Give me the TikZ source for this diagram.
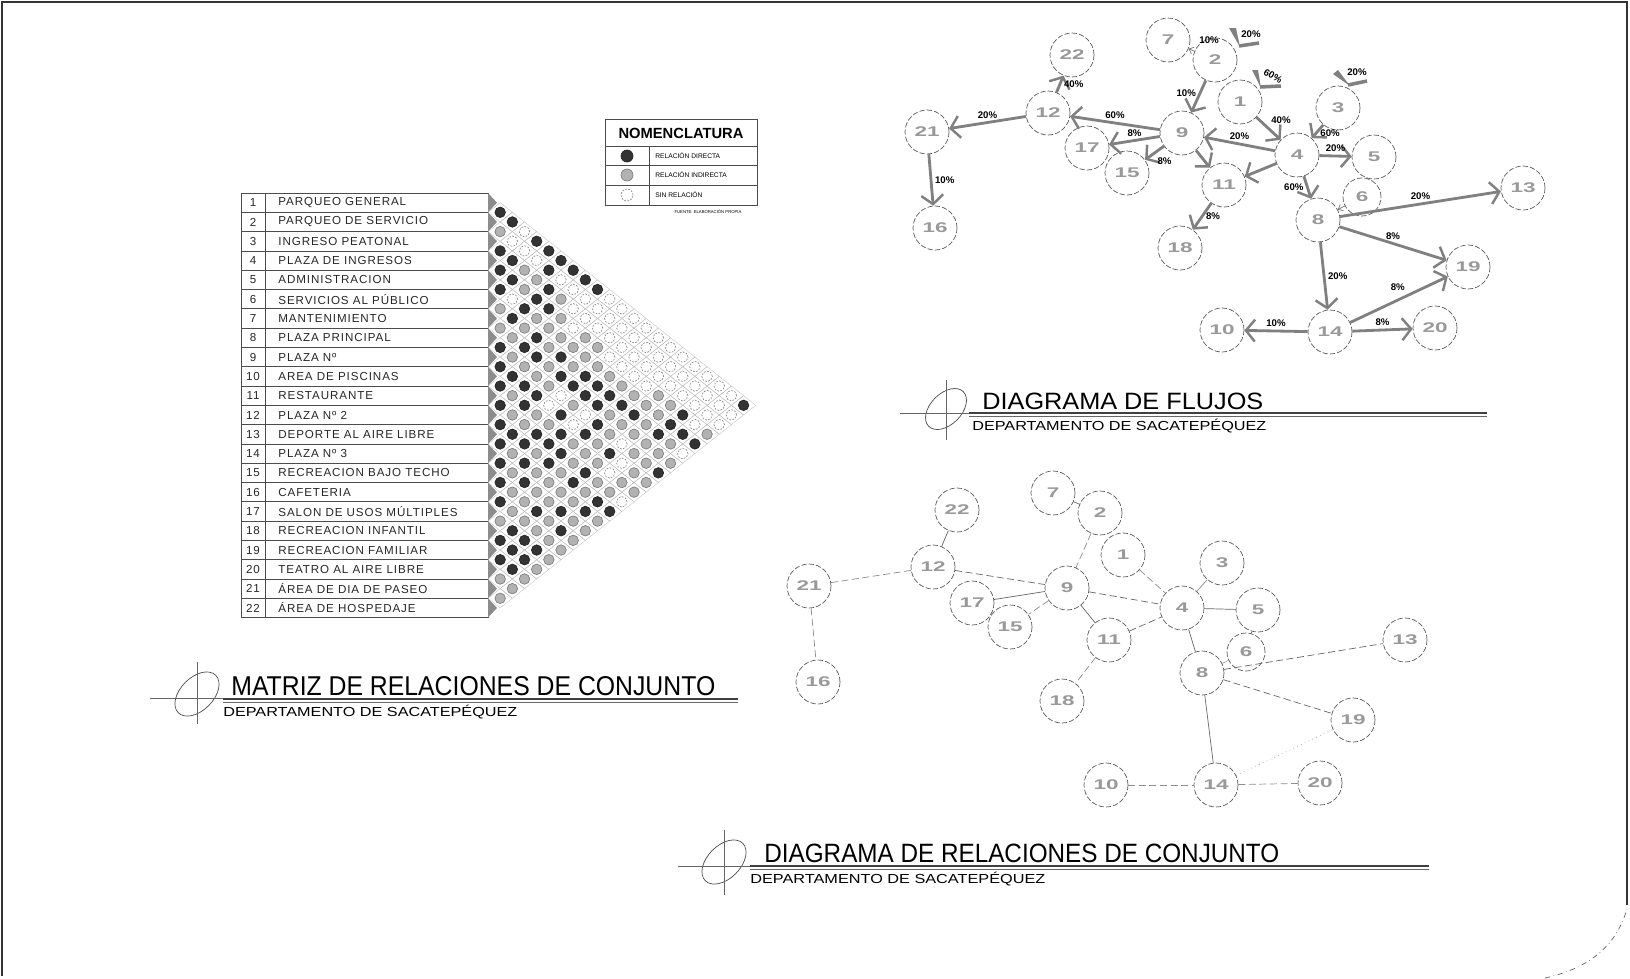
\documentclass[tikz,border=0pt]{standalone}
\usepackage{fontspec}
\setmainfont{Liberation Sans}
\newfontfamily\numfont[FakeStretch=1.6]{Liberation Sans}
\newfontfamily\tabfont[LetterSpace=8]{Liberation Sans}
\usetikzlibrary{arrows.meta,positioning,shapes.geometric}

\definecolor{flowgray}{gray}{0.5}

% relation matrix, one entry per diagonal row: B direct, G indirect, W none
\newcommand\matrows{0/{B},1/{B},2/{G,W},3/{W,B},4/{B,W,B},5/{B,W,B},6/{B,G,B,B},7/{B,G,W,B},8/{B,G,B,W,B},9/{W,B,G,W,W},10/{G,B,B,W,W,W},11/{B,G,G,W,W,W},12/{G,G,G,W,W,W,W},13/{G,B,G,G,W,W,W},14/{B,B,G,G,G,W,W,W},15/{G,B,B,G,W,W,W,W},16/{B,G,G,G,G,W,W,W,W},17/{B,G,B,B,G,W,W,W,W},18/{B,B,G,B,B,G,W,W,W,W},19/{G,B,W,B,B,G,G,W,W,W},20/{B,B,W,G,B,B,G,G,W,W,B},21/{G,G,B,W,G,B,G,B,W,W},22/{B,G,G,W,B,G,G,B,W,W},23/{B,B,B,B,G,G,B,B,G},24/{B,B,B,G,G,W,G,G,B},25/{G,G,B,G,B,G,G,W},26/{B,B,B,G,G,W,G,G},27/{G,G,G,B,W,G,B},28/{B,B,G,B,G,G,G},29/{G,G,G,G,G,G},30/{B,G,G,G,B,W},31/{G,B,B,B,B},32/{G,G,G,G,G},33/{B,G,B,G},34/{B,B,G,G},35/{B,B,G},36/{B,B,G},37/{B,G},38/{G,G},39/{G},40/{G}}

\begin{document}
\begin{tikzpicture}[x=0.02cm,y=-0.02cm,
  plannode/.style={circle,draw=black!65,dash pattern=on 3pt off 1.2pt,minimum size=0.88cm,inner sep=0pt,text=black!40,font=\numfont\bfseries\fontsize{8}{8}\selectfont},
  smallnode/.style={plannode,minimum size=0.76cm},
  flowarrow/.style={draw=flowgray,line width=1.6pt,-{Straight Barb[length=1.8mm,width=4.4mm,line width=1.4pt]}},
  smallarrow/.style={draw=black!55,thin,-{Straight Barb[length=0.8mm,width=1.4mm]}},
  lbl/.style={font=\bfseries\fontsize{5.5}{6}\selectfont,inner sep=1.5pt},
  relsolid/.style={draw=black!60,thin},
  reldash/.style={draw=black!45,thin,dash pattern=on 4pt off 2pt},
  reldot/.style={draw=black!35,thin,dotted},
  tabline/.style={draw=black!70,thin},
  tabtext/.style={font=\tabfont\fontsize{6.6}{7}\selectfont,inner sep=0pt,text=black!85},
  gridline/.style={draw=black!25,very thin},
  cellB/.style={fill=black!80,draw=black!85},
  cellG/.style={fill=black!30,draw=black!50},
  cellW/.style={draw=black!45,dash pattern=on 1pt off 0.8pt},
  markellipse/.style={ellipse,draw=black!70,minimum width=0.98cm,minimum height=0.62cm,inner sep=0pt,rotate=45},
  entry/.style={fill=flowgray}]
\useasboundingbox (0,0) rectangle (1630,978);

% sheet frame
\draw[black!80,thick] (1627,905) -- (1627,2) -- (2,2) -- (2,976);
\draw[black!60,dash dot] (1545,978) .. controls (1590,968) and (1618,945) .. (1628,905);

%%% matrix table
\draw[tabline] (241,193) rectangle (488,617);
\draw[tabline] (265,193) -- (265,617);
\foreach \i in {1,...,21}
  \draw[tabline] (241,{193+19.3*\i}) -- (488,{193+19.3*\i});
\foreach \txt [count=\i] in {PARQUEO GENERAL,PARQUEO DE SERVICIO,INGRESO PEATONAL,PLAZA DE INGRESOS,ADMINISTRACION,SERVICIOS AL PÚBLICO,MANTENIMIENTO,PLAZA PRINCIPAL,PLAZA Nº,AREA DE PISCINAS,RESTAURANTE,PLAZA Nº 2,DEPORTE AL AIRE LIBRE,PLAZA Nº 3,RECREACION BAJO TECHO,CAFETERIA,SALON DE USOS MÚLTIPLES,RECREACION INFANTIL,RECREACION FAMILIAR,TEATRO AL AIRE LIBRE,ÁREA DE DIA DE PASEO,ÁREA DE HOSPEDAJE}{
  \node[tabtext] (num\i) at (253,{193+19.3*(\i-0.5)}) {\i};
  \node[tabtext,anchor=west] (row\i) at (278,{193+19.3*(\i-0.5)}) {\txt};
  \fill[black!45] (488,{193+19.3*(\i-1)}) -- (497,{193+19.3*(\i-0.5)}) -- (488,{193+19.3*\i}) -- cycle;
}
% relation cells
\foreach \row/\cells in \matrows {
  \foreach \kind [count=\idx from 0] in \cells {
    \pgfmathsetmacro\cx{488+12.17*(mod(\row,2)+2*\idx+1)}
    \pgfmathsetmacro\cy{193+9.65*(\row+2)}
    \draw[gridline] (\cx-12.17,\cy) -- (\cx,\cy-9.65) -- (\cx+12.17,\cy) -- (\cx,\cy+9.65) -- cycle;
    \path[cell\kind] (\cx,\cy) circle[radius=0.105cm];
  }
}

%%% legend
\draw[tabline] (605,119) rectangle (757,205);
\draw[tabline] (605,146) -- (757,146);
\draw[tabline] (605,165) -- (757,165);
\draw[tabline] (605,185) -- (757,185);
\draw[tabline] (649,146) -- (649,205);
\node[inner sep=0pt] (legtitle) at (681,133) {\resizebox{2.5cm}{!}{\bfseries NOMENCLATURA}};
\path[cellB] (627,156) circle[radius=0.12cm];
\path[cellG] (627,175) circle[radius=0.12cm];
\path[cellW] (627,195) circle[radius=0.12cm];
\node[font=\fontsize{3.8}{4}\selectfont,anchor=west,inner sep=0pt] (leg1) at (655,156) {RELACIÓN DIRECTA};
\node[font=\fontsize{3.8}{4}\selectfont,anchor=west,inner sep=0pt] (leg2) at (655,175) {RELACIÓN INDIRECTA};
\node[font=\fontsize{3.8}{4}\selectfont,anchor=west,inner sep=0pt] (leg3) at (655,195) {SIN RELACIÓN};
\node[font=\fontsize{2.4}{3}\selectfont,inner sep=0pt] (legnote) at (708,212) {FUENTE: ELABORACIÓN PROPIA};

%%% matrix title
\node[markellipse,minimum width=1.06cm,minimum height=0.66cm] (mmark) at (197,694) {};
\draw[black!60,thin] (150,698) -- (223,698);
\draw[black!60,thin] (197,662) -- (197,724);
\node[anchor=south west,inner sep=0pt] (mtitle) at (231,696) {\resizebox{9.68cm}{0.38cm}{MATRIZ DE RELACIONES DE CONJUNTO}};
\draw[black!75,line width=0.9pt] (223,699) -- (738,699);
\draw[black!60,thin] (223,702) -- (738,702);
\node[anchor=north west,inner sep=0pt] (msub) at (223,705) {\resizebox{5.88cm}{0.227cm}{DEPARTAMENTO DE SACATEPÉQUEZ}};

%%% flow diagram
\foreach \n/\x/\y in {1/1240/102,2/1215/60,3/1338/108,4/1297/155,5/1374/157,7/1168/40,8/1318/220,9/1182/133,10/1222/330,11/1224/185,12/1048/113,13/1523/188,14/1330/332,15/1127/173,16/935/228,17/1087/148,18/1180/248,19/1468/267,20/1435/328,21/927/132,22/1072/55}
  \node[plannode] (f\n) at (\x,\y) {\n};
\node[smallnode] (f6) at (1362,197) {6};

\draw[flowarrow] (f2) -- node[lbl,left,pos=0.4] {10\%} (f9);
\draw[smallarrow] (f2) -- node[lbl,above right=3pt,pos=0.3] {10\%} (f7);
\draw[flowarrow] (f1) -- node[lbl,above right,pos=0.45] {40\%} (f4);
\draw[flowarrow] (f3) -- node[lbl,right,pos=0.6] {60\%} (f4);
\draw[flowarrow] (f4) -- node[lbl,above] {20\%} (f5);
\draw[flowarrow] (f4) -- node[lbl,above] {20\%} (f9);
\draw[flowarrow] (f4) -- (f11);
\draw[flowarrow] (f4) -- node[lbl,left] {60\%} (f8);
\draw[flowarrow] (f9) -- node[lbl,above] {60\%} (f12);
\draw[flowarrow] (f9) -- node[lbl,above] {8\%} (f17);
\draw[flowarrow] (f9) -- node[lbl,below right,pos=0.55] {8\%} (f15);
\draw[flowarrow] (f9) -- (f11);
\draw[flowarrow] (f12) -- node[lbl,right] {40\%} (f22);
\draw[flowarrow] (f12) -- node[lbl,above] {20\%} (f21);
\draw[flowarrow] (f21) -- node[lbl,right] {10\%} (f16);
\draw[flowarrow] (f11) -- node[lbl,right] {8\%} (f18);
\draw[smallarrow,-] (f5) -- (f6);
\draw[smallarrow] (f6) -- (f8);
\draw[flowarrow] (f8) -- node[lbl,above] {20\%} (f13);
\draw[flowarrow] (f8) -- node[lbl,above] {8\%} (f19);
\draw[flowarrow] (f8) -- node[lbl,right] {20\%} (f14);
\draw[flowarrow] (f14) -- node[lbl,above left,pos=0.6] {8\%} (f19);
\draw[flowarrow] (f14) -- node[lbl,above] {10\%} (f10);
\draw[flowarrow] (f14) -- node[lbl,above] {8\%} (f20);

% entries from outside
\fill[entry] (1229,28) -- (1236,28) -- (1240,47) -- cycle;
\draw[flowgray,line width=2pt] (1239,46) -- (1259,43);
\node[lbl] (in2) at (1251,34) {20\%};
\fill[entry] (1252,70) -- (1258,70) -- (1261,88) -- cycle;
\draw[flowgray,line width=2pt] (1260,87) -- (1281,86);
\node[lbl,rotate=-30] (in1) at (1273,76) {60\%};
\fill[entry] (1333,74) -- (1338,70) -- (1350,86) -- cycle;
\draw[flowgray,line width=2pt] (1348,85) -- (1367,81);
\node[lbl] (in3) at (1357,72) {20\%};

%%% flow title
\node[markellipse] (fmark) at (946,409) {};
\draw[black!60,thin] (900,413) -- (969,413);
\draw[black!60,thin] (946,380) -- (946,440);
\node[anchor=south west,inner sep=0pt] (ftitle) at (982,410) {\resizebox{5.62cm}{0.33cm}{DIAGRAMA DE FLUJOS}};
\draw[black!75,line width=0.9pt] (969,413) -- (1487,413);
\draw[black!60,thin] (969,416) -- (1487,416);
\node[anchor=north west,inner sep=0pt] (fsub) at (972,419) {\resizebox{5.88cm}{0.227cm}{DEPARTAMENTO DE SACATEPÉQUEZ}};

%%% relations diagram
\foreach \n/\x/\y in {1/1123/555,2/1100/513,3/1222/563,4/1182/608,5/1258/610,7/1053/493,8/1202/673,9/1067/588,10/1106/785,11/1109/640,12/933/567,13/1405/640,14/1216/785,15/1010/627,16/818/682,17/972/603,18/1062/701,19/1353/720,20/1320/783,21/809/586,22/957/510}
  \node[plannode] (r\n) at (\x,\y) {\n};
\node[smallnode] (r6) at (1246,652) {6};

\draw[relsolid] (r7) -- (r2);
\draw[reldash] (r2) -- (r9);
\draw[relsolid] (r22) -- (r12);
\draw[reldash] (r12) -- (r21);
\draw[reldash,draw=black!60] (r12) -- (r9);
\draw[reldash] (r21) -- (r16);
\draw[relsolid] (r9) -- (r17);
\draw[reldash] (r9) -- (r15);
\draw[reldash,draw=black!60] (r9) -- (r4);
\draw[relsolid] (r9) -- (r11);
\draw[reldash] (r1) -- (r4);
\draw[reldash,draw=black!60] (r11) -- (r4);
\draw[reldash] (r11) -- (r18);
\draw[relsolid,draw=black!45] (r3) -- (r4);
\draw[relsolid] (r4) -- (r5);
\draw[relsolid] (r4) -- (r8);
\draw[relsolid] (r5) -- (r6);
\draw[relsolid,draw=black!35] (r6) -- (r8);
\draw[reldash,draw=black!60] (r8) -- (r13);
\draw[reldash,draw=black!60] (r8) -- (r19);
\draw[relsolid] (r8) -- (r14);
\draw[reldot] (r14) -- (r19);
\draw[reldash] (r10) -- (r14);
\draw[reldash] (r14) -- (r20);

%%% relations title
\node[markellipse,minimum width=1.06cm,minimum height=0.66cm] (rmark) at (724,862) {};
\draw[black!60,thin] (678,866) -- (750,866);
\draw[black!60,thin] (724,830) -- (724,895);
\node[anchor=south west,inner sep=0pt] (rtitle) at (764,863) {\resizebox{10.3cm}{0.37cm}{DIAGRAMA DE RELACIONES DE CONJUNTO}};
\draw[black!75,line width=0.9pt] (750,866) -- (1429,866);
\draw[black!60,thin] (750,869) -- (1429,869);
\node[anchor=north west,inner sep=0pt] (rsub) at (750,872) {\resizebox{5.9cm}{0.227cm}{DEPARTAMENTO DE SACATEPÉQUEZ}};
\end{tikzpicture}
\end{document}
